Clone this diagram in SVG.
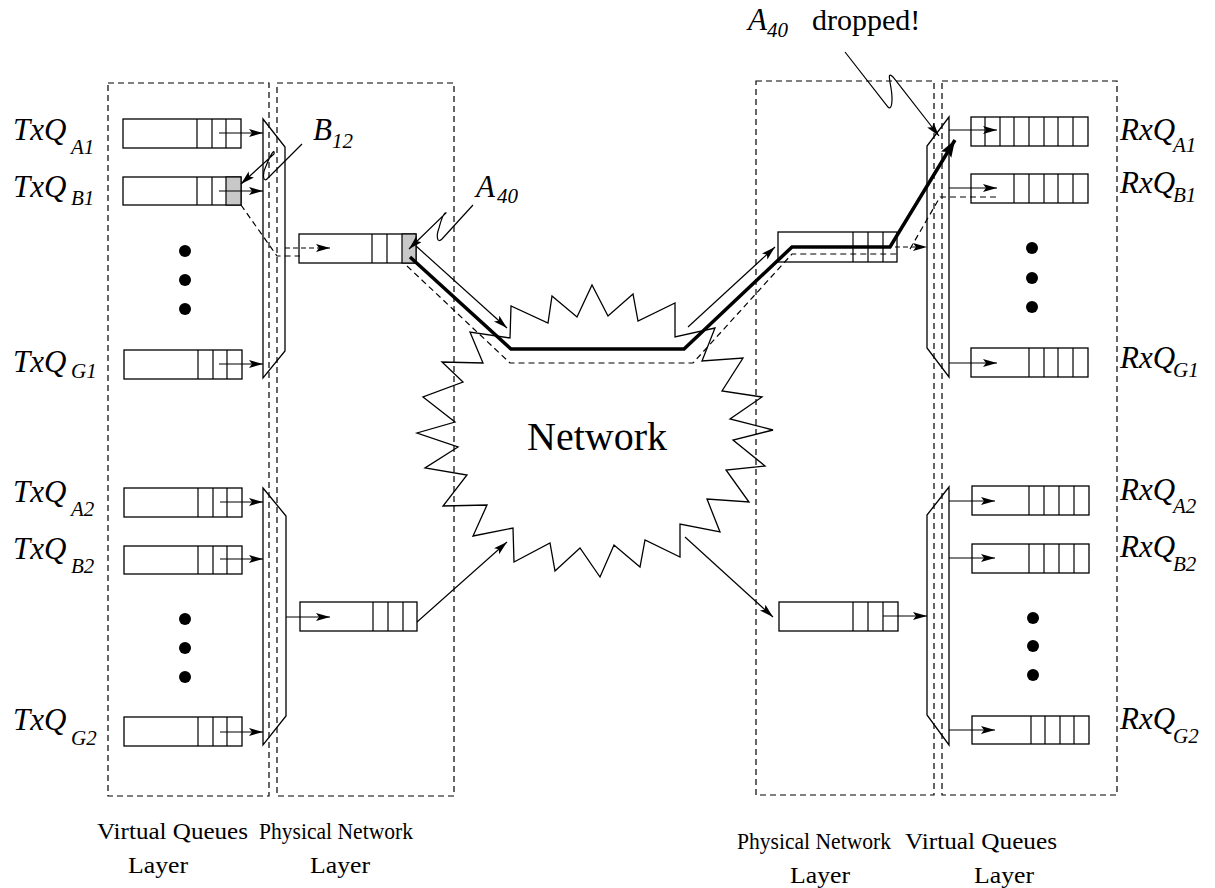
<svg xmlns="http://www.w3.org/2000/svg" width="1215" height="888" viewBox="0 0 1215 888">
<style>
.layer{fill:none;stroke:#000;stroke-width:1.2;stroke-dasharray:6 4}
.q{fill:#fff;stroke:#000;stroke-width:1.3}
.dv{stroke:#000;stroke-width:1.2}
.sh{fill:#c8c8c8;stroke:#000;stroke-width:1.2}
.mux{fill:none;stroke:#000;stroke-width:1.3}
.ar{fill:none;stroke:#000;stroke-width:1.2;marker-end:url(#ah)}
.ard{fill:none;stroke:#000;stroke-width:1.2;stroke-dasharray:5 3;marker-end:url(#ah)}
.dash{fill:none;stroke:#000;stroke-width:1.2;stroke-dasharray:6 4}
.thick{fill:none;stroke:#000;stroke-width:3.5;marker-end:url(#ahT)}
.lbl{font-family:"Liberation Serif",serif;font-style:italic;font-size:31px}
.sub{font-family:"Liberation Serif",serif;font-style:italic;font-size:21px}
.cap{font-family:"Liberation Serif",serif;font-size:24px}
</style>
<defs>
<marker id="ah" markerUnits="userSpaceOnUse" markerWidth="16" markerHeight="10" refX="14" refY="4" orient="auto"><path d="M0,0 L14,4 L0,8 L3,4 z" fill="#000"/></marker>
<marker id="ahT" markerUnits="userSpaceOnUse" markerWidth="20" markerHeight="14" refX="17" refY="6" orient="auto"><path d="M0,0 L17,6 L0,12 L3,6 z" fill="#000"/></marker>
</defs>
<rect width="1215" height="888" fill="#fff"/>

<g id="layers">
<rect class="layer" x="108" y="83" width="161" height="713"/>
<rect class="layer" x="277" y="83" width="177" height="713"/>
<rect class="layer" x="756" y="81" width="178" height="714"/>
<rect class="layer" x="942" y="81" width="175" height="714"/>
</g>

<g id="network">
<polygon fill="none" stroke="#000" stroke-width="1.3" points="510,338 511,306 548,323 552,296 577,317 592,285 608,316 633,294 638,321 675,303 675,337 715,328 702,361 743,358 722,391 762,397 730,419 773,430 733,440 765,466 726,470 749,502 707,499 720,532 680,524 680,557 645,540 640,567 614,545 600,577 580,548 555,571 550,543 514,562 513,528 473,536 487,505 443,506 467,475 425,468 458,447 417,433 455,422 423,397 463,382 442,362 483,363 470,332"/>
<text x="597" y="450" font-family="Liberation Serif,serif" font-size="40" text-anchor="middle">Network</text>
</g>

<g id="txq-a1"><rect class="q" x="123" y="119" width="118" height="29"/><path class="dv" d="M197,119V148M212,119V148M226,119V148"/>
<text class="lbl" x="13" y="140">TxQ</text><text class="sub" x="71" y="154">A1</text></g>
<g id="txq-b1"><rect class="q" x="123" y="177" width="118" height="28"/><rect class="sh" x="226" y="177" width="15" height="28"/><path class="dv" d="M197,177V205M212,177V205"/>
<text class="lbl" x="13" y="197">TxQ</text><text class="sub" x="71" y="205">B1</text></g>
<g id="txq-g1"><rect class="q" x="124" y="350" width="118" height="29"/><path class="dv" d="M198,350V379M213,350V379M227,350V379"/>
<text class="lbl" x="13" y="372">TxQ</text><text class="sub" x="71" y="378">G1</text></g>
<g id="txq-a2"><rect class="q" x="124" y="488" width="118" height="29"/><path class="dv" d="M198,488V517M213,488V517M227,488V517"/>
<text class="lbl" x="13" y="502">TxQ</text><text class="sub" x="71" y="516">A2</text></g>
<g id="txq-b2"><rect class="q" x="124" y="546" width="118" height="28"/><path class="dv" d="M198,546V574M213,546V574M227,546V574"/>
<text class="lbl" x="13" y="559">TxQ</text><text class="sub" x="71" y="573">B2</text></g>
<g id="txq-g2"><rect class="q" x="124" y="717" width="118" height="29"/><path class="dv" d="M198,717V746M213,717V746M227,717V746"/>
<text class="lbl" x="13" y="730">TxQ</text><text class="sub" x="71" y="745">G2</text></g>
<g id="dots-left"><circle cx="185" cy="251" r="6"/><circle cx="185" cy="280" r="6"/><circle cx="185" cy="309" r="6"/><circle cx="185" cy="619" r="6"/><circle cx="185" cy="648" r="6"/><circle cx="185" cy="677" r="6"/></g>

<g id="mux-left-1"><polygon class="mux" points="263,119 285,147 285,351 263,378"/></g>
<g id="mux-left-2"><polygon class="mux" points="263,488 286,516 286,716 263,745"/></g>
<g id="mux-right-1"><polygon class="mux" points="949,117 927,146 927,348 949,377"/></g>
<g id="mux-right-2"><polygon class="mux" points="949,487 927,515 927,715 949,745"/></g>

<g id="phys-left-1"><rect class="q" x="299" y="234" width="117" height="29"/><rect class="sh" x="402" y="234" width="14" height="29"/><path class="dv" d="M372,234V263M387,234V263"/></g>
<g id="phys-left-2"><rect class="q" x="300" y="602" width="117" height="29"/><path class="dv" d="M373,602V631M388,602V631M403,602V631"/></g>
<g id="phys-right-1"><rect class="q" x="778" y="232" width="119" height="30"/><path class="dv" d="M853,232V262M868,232V262M883,232V262"/></g>
<g id="phys-right-2"><rect class="q" x="779" y="602" width="119" height="29"/><path class="dv" d="M853,602V631M868,602V631M883,602V631"/></g>

<g id="rxq-a1"><rect class="q" x="971" y="117" width="117" height="29"/><path class="dv" d="M985,117V146M1000,117V146M1014,117V146M1029,117V146M1044,117V146M1058,117V146M1073,117V146"/>
<text class="lbl" x="1120" y="140">RxQ</text><text class="sub" x="1173" y="152">A1</text></g>
<g id="rxq-b1"><rect class="q" x="971" y="174" width="117" height="29"/><path class="dv" d="M1014,174V203M1029,174V203M1044,174V203M1058,174V203M1073,174V203"/>
<text class="lbl" x="1120" y="193">RxQ</text><text class="sub" x="1173" y="202">B1</text></g>
<g id="rxq-g1"><rect class="q" x="971" y="348" width="117" height="29"/><path class="dv" d="M1029,348V377M1044,348V377M1058,348V377M1073,348V377"/>
<text class="lbl" x="1120" y="368">RxQ</text><text class="sub" x="1173" y="377">G1</text></g>
<g id="rxq-a2"><rect class="q" x="972" y="486" width="117" height="29"/><path class="dv" d="M1029,486V515M1044,486V515M1059,486V515M1074,486V515"/>
<text class="lbl" x="1120" y="500">RxQ</text><text class="sub" x="1173" y="513">A2</text></g>
<g id="rxq-b2"><rect class="q" x="972" y="544" width="117" height="29"/><path class="dv" d="M1029,544V573M1044,544V573M1059,544V573M1074,544V573"/>
<text class="lbl" x="1120" y="557">RxQ</text><text class="sub" x="1173" y="571">B2</text></g>
<g id="rxq-g2"><rect class="q" x="972" y="716" width="117" height="28"/><path class="dv" d="M1031,716V744M1045,716V744M1060,716V744M1074,716V744"/>
<text class="lbl" x="1120" y="729">RxQ</text><text class="sub" x="1173" y="743">G2</text></g>
<g id="dots-right"><circle cx="1032" cy="248" r="6"/><circle cx="1032" cy="278" r="6"/><circle cx="1032" cy="307" r="6"/><circle cx="1033" cy="618" r="6"/><circle cx="1033" cy="646" r="6"/><circle cx="1033" cy="675" r="6"/></g>

<g id="connectors">
<path class="ar" d="M219,133H263"/>
<path class="ar" d="M219,191H263"/>
<path class="ar" d="M219,364H263"/>
<path class="ar" d="M220,502H263"/>
<path class="ar" d="M220,559H263"/>
<path class="ar" d="M220,732H263"/>
<path class="ard" d="M285,248H330"/>
<path class="ar" d="M286,617H330"/>
<path class="ar" d="M417,622L507,542"/>
<path class="ar" d="M685,537L773,617"/>
<path class="ar" d="M883,616H927"/>
<path class="ard" d="M895,247H927"/>
<path class="ar" d="M949,130H997"/>
<path class="ar" d="M949,188H997"/>
<path class="ar" d="M949,363H997"/>
<path class="ar" d="M949,501H995"/>
<path class="ar" d="M949,558H995"/>
<path class="ar" d="M949,730H995"/>
<path class="dash" d="M241,205L277,256H300"/>
<path class="dash" d="M407,266L510,363H693L792,254H900"/>
<path class="dash" d="M910,249L940,197H1000"/>
<path class="ar" d="M416,246L507,328"/>
<path class="ar" d="M688,327L775,247"/>
<path class="thick" d="M410,257L511,349H684L792,247H890L955,140"/>
<path class="ar" d="M302,144L268,178C263,184 262,174 266,166C270,156 275,147 274,154L241,184"/>
<path class="ar" d="M473,205L442,239C437,244 436,236 439,228C441,220 444,212 446,213L409,249"/>
<path class="ar" d="M845,52L888,107C892,111 893,100 891,88C889,77 888,72 893,77L939,136"/>
</g>

<g id="annotations">
<text class="lbl" x="313" y="140">B</text><text class="sub" x="332" y="148">12</text>
<text class="lbl" x="476" y="197">A</text><text class="sub" x="497" y="203">40</text>
<text class="lbl" x="748" y="30">A</text><text class="sub" x="767" y="37">40</text>
<text x="812" y="30" font-family="Liberation Serif,serif" font-size="30">dropped!</text>
</g>

<g id="captions">
<text class="cap" x="97" y="839" textLength="151" lengthAdjust="spacingAndGlyphs">Virtual Queues</text>
<text class="cap" x="259" y="839" textLength="154" lengthAdjust="spacingAndGlyphs">Physical Network</text>
<text class="cap" x="158" y="873" textLength="60" lengthAdjust="spacingAndGlyphs" text-anchor="middle">Layer</text>
<text class="cap" x="340" y="873" textLength="60" lengthAdjust="spacingAndGlyphs" text-anchor="middle">Layer</text>
<text class="cap" x="737" y="849" textLength="154" lengthAdjust="spacingAndGlyphs">Physical Network</text>
<text class="cap" x="905" y="849" textLength="152" lengthAdjust="spacingAndGlyphs">Virtual Queues</text>
<text class="cap" x="820" y="883" textLength="60" lengthAdjust="spacingAndGlyphs" text-anchor="middle">Layer</text>
<text class="cap" x="1004" y="883" textLength="60" lengthAdjust="spacingAndGlyphs" text-anchor="middle">Layer</text>
</g>
</svg>
